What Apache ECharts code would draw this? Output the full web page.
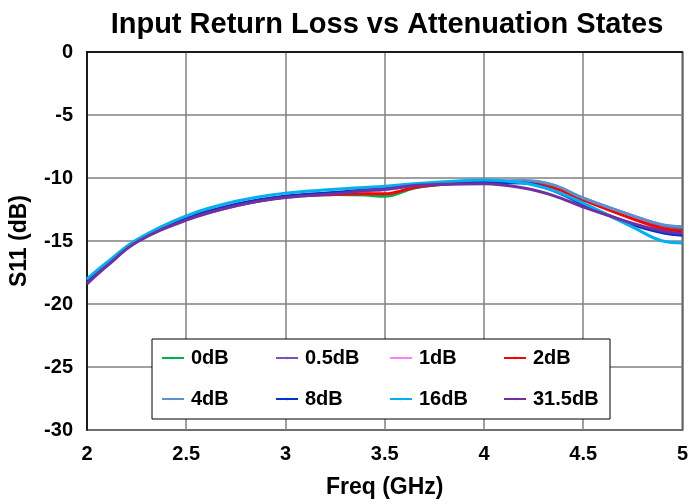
<!DOCTYPE html>
<html>
<head>
<meta charset="utf-8">
<script src="https://cdn.jsdelivr.net/npm/echarts@6/dist/echarts.min.js"></script>
<style>
  html, body { margin: 0; padding: 0; background: #fff; }
  #chart { width: 691px; height: 504px; }
</style>
</head>
<body>
<div id="chart"></div>
<script>
  // frequency points (GHz)
  var freq = [2.0, 2.1, 2.25, 2.5, 2.75, 3.0, 3.25, 3.4, 3.5, 3.65, 3.8, 4.0, 4.2, 4.35, 4.5, 4.75, 4.9, 5.0];

  // S11 (dB) per attenuation state
  var s0dB   = [-18.1, -16.8, -15.0, -13.2, -12.1, -11.5, -11.3, -11.35, -11.45, -10.8, -10.5, -10.4, -10.3, -10.7, -11.7, -13.1, -13.8, -14.0];
  var s05dB  = [-18.2, -16.9, -15.0, -13.3, -12.2, -11.5, -11.25, -11.05, -10.9, -10.6, -10.45, -10.35, -10.25, -10.6, -11.6, -13.0, -13.75, -13.9];
  var s1dB   = [-18.2, -16.85, -15.0, -13.2, -12.1, -11.45, -11.2, -11.05, -10.95, -10.6, -10.45, -10.3, -10.25, -10.7, -11.7, -13.2, -14.1, -14.35];
  var s2dB   = [-18.2, -16.85, -15.0, -13.2, -12.15, -11.5, -11.3, -11.25, -11.25, -10.75, -10.5, -10.35, -10.3, -10.75, -11.75, -13.25, -14.0, -14.2];
  var s4dB   = [-18.1, -16.8, -15.0, -13.25, -12.15, -11.5, -11.2, -11.0, -10.9, -10.6, -10.45, -10.3, -10.2, -10.55, -11.6, -13.0, -13.7, -13.85];
  var s8dB   = [-18.2, -16.9, -15.0, -13.25, -12.1, -11.45, -11.15, -10.95, -10.85, -10.55, -10.45, -10.35, -10.4, -11.0, -12.1, -13.7, -14.35, -14.55];
  var s16dB  = [-18.0, -16.7, -14.9, -13.0, -11.85, -11.2, -10.9, -10.75, -10.65, -10.45, -10.3, -10.15, -10.4, -11.0, -12.0, -13.9, -15.0, -15.15];
  var s315dB = [-18.4, -17.0, -15.1, -13.35, -12.2, -11.55, -11.25, -11.0, -10.9, -10.6, -10.5, -10.45, -10.8, -11.4, -12.3, -13.6, -14.2, -14.4];

  var names  = ['0dB', '0.5dB', '1dB', '2dB', '4dB', '8dB', '16dB', '31.5dB'];
  var colors = ['#00B050', '#7E4FC0', '#FF80FF', '#FF0000', '#5B92CC', '#0033CC', '#00B0F0', '#7030A0'];
  var values = [s0dB, s05dB, s1dB, s2dB, s4dB, s8dB, s16dB, s315dB];

  var font = 'Liberation Sans, Arial, sans-serif';

  var series = [];
  for (var i = 0; i < names.length; i++) {
    var pts = [];
    for (var j = 0; j < freq.length; j++) pts.push([freq[j], values[i][j]]);
    series.push({
      name: names[i],
      type: 'line',
      data: pts,
      smooth: 0.4,
      symbol: 'none',
      lineStyle: { color: colors[i], width: 3 },
      itemStyle: { color: colors[i] }
    });
  }

  var chart = echarts.init(document.getElementById('chart'));
  var option = {
    animation: false,
    backgroundColor: '#fff',
    title: {
      text: 'Input Return Loss vs Attenuation States',
      left: 382,
      textAlign: 'center',
      top: 5,
      textStyle: { fontFamily: font, fontSize: 29, fontWeight: 'bold', color: '#000' }
    },
    grid: {
      left: 86, right: 5, top: 52, bottom: 74,
      show: true,
      borderColor: '#000',
      borderWidth: 1.5
    },
    legend: {
      data: names,
      left: 152,
      top: 339,
      width: 452,
      padding: [2, 0, 3, 9],
      itemGap: 7,
      itemWidth: 22,
      itemHeight: 3,
      backgroundColor: '#fff',
      borderColor: '#000',
      borderWidth: 1,
      textStyle: { fontFamily: font, fontSize: 20, fontWeight: 'bold', color: '#000', width: 77, lineHeight: 34, padding: [0, 0, 0, 2] }
    },
    xAxis: {
      type: 'value',
      min: 2, max: 5, interval: 0.5,
      name: 'Freq (GHz)',
      nameLocation: 'middle',
      nameGap: 46,
      nameTextStyle: { fontFamily: font, fontSize: 23, fontWeight: 'bold', color: '#000' },
      axisLine: { show: true, lineStyle: { color: '#000', width: 1.5 } },
      axisTick: { show: false },
      axisLabel: { fontFamily: font, fontSize: 20, fontWeight: 'bold', color: '#000', margin: 14 },
      splitLine: { show: true, lineStyle: { color: '#808080', width: 1.5 } }
    },
    yAxis: {
      type: 'value',
      min: -30, max: 0, interval: 5,
      name: 'S11 (dB)',
      nameLocation: 'middle',
      nameGap: 56,
      nameTextStyle: { fontFamily: font, fontSize: 23, fontWeight: 'bold', color: '#000' },
      axisLine: { show: true, lineStyle: { color: '#000', width: 1.5 } },
      axisTick: { show: false },
      axisLabel: { fontFamily: font, fontSize: 20, fontWeight: 'bold', color: '#000', margin: 14 },
      splitLine: { show: true, lineStyle: { color: '#808080', width: 1.5 } }
    },
    series: series
  };
  chart.setOption(option);
</script>
</body>
</html>
